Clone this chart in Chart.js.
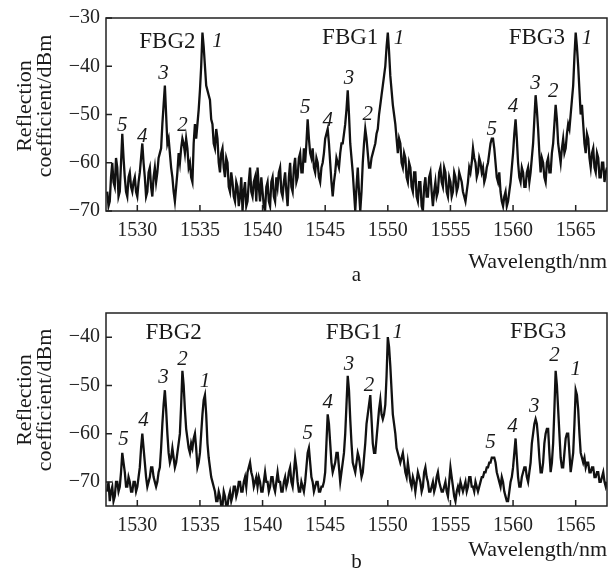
<!DOCTYPE html>
<html>
<head>
<meta charset="utf-8">
<script src="https://cdn.jsdelivr.net/npm/chart.js@4"></script>
<style>
  html, body { margin: 0; padding: 0; background: #fff; }
  canvas { position: absolute; left: 0; }
  #chartA { top: 0; }
  #chartB { top: 287px; }
</style>
</head>
<body>
<canvas id="chartA" width="609" height="287"></canvas>
<canvas id="chartB" width="609" height="287"></canvas>
<script>
// sampling grid of the spectra (nm)
const lambdaStart = 1527.6;
const lambdaStep = 0.1;

const xTicks = [1530, 1535, 1540, 1545, 1550, 1555, 1560, 1565];
const yTicksA = [-70, -60, -50, -40, -30];
const yTicksB = [-70, -60, -50, -40];

// panel a, dBm, one row = 2 nm
const reflectionA = [
  -66, -69, -68, -63, -60, -64, -65, -59, -61, -67, -66, -60, -54, -59, -63, -66, -67, -63, -62, -65,
  -66, -64, -63, -66, -67, -64, -62, -59, -56, -60, -63, -67, -66, -62, -61, -65, -67, -63, -61, -64,
  -62, -59, -58, -57, -52, -48, -44, -50, -56, -55, -58, -61, -63, -66, -68, -65, -62, -58, -60, -57,
  -55, -56, -58, -55, -57, -61, -60, -63, -64, -56, -52, -55, -52, -49, -45, -40, -33, -36, -40, -44,
  -45, -46, -47, -51, -52, -56, -57, -53, -55, -60, -62, -58, -57, -61, -63, -59, -60, -65, -66, -62,
  -64, -67, -68, -64, -65, -69, -67, -63, -70, -66, -64, -69, -68, -64, -61, -66, -67, -64, -63, -68,
  -61, -65, -68, -63, -66, -69, -70, -65, -64, -68, -69, -64, -63, -67, -68, -63, -65, -62, -61, -66,
  -67, -64, -62, -66, -69, -63, -60, -65, -66, -61, -59, -64, -63, -59, -58, -62, -62, -57, -60, -56,
  -51, -55, -58, -59, -57, -61, -62, -59, -60, -63, -64, -61, -60, -58, -55, -54, -53, -56, -60, -64,
  -67, -64, -62, -59, -60, -61, -58, -56, -56, -54, -52, -49, -45, -50, -56, -59, -62, -66, -70, -65,
  -61, -66, -70, -66, -60, -56, -53, -55, -58, -61, -61, -59, -58, -57, -56, -54, -53, -50, -48, -46,
  -44, -42, -40, -36, -33, -37, -42, -45, -48, -50, -52, -55, -58, -55, -56, -60, -61, -58, -59, -63,
  -64, -60, -61, -65, -66, -62, -62, -67, -68, -64, -64, -69, -70, -65, -63, -67, -67, -63, -62, -66,
  -69, -66, -64, -67, -66, -62, -61, -64, -65, -61, -62, -66, -67, -63, -64, -67, -66, -62, -63, -66,
  -65, -62, -63, -64, -66, -67, -68, -66, -64, -61, -62, -60, -57, -59, -60, -63, -62, -59, -60, -62,
  -61, -64, -63, -61, -60, -58, -56, -55, -55, -57, -60, -63, -64, -62, -66, -68, -69, -67, -66, -69,
  -68, -66, -64, -61, -58, -54, -51, -55, -60, -63, -64, -61, -62, -65, -65, -62, -61, -64, -62, -59,
  -56, -51, -46, -49, -53, -58, -62, -59, -60, -63, -64, -60, -59, -62, -62, -58, -56, -52, -48, -51,
  -56, -58, -60, -57, -55, -58, -57, -54, -52, -53, -50, -47, -44, -38, -33, -36, -40, -45, -50, -48,
  -52, -56, -58, -54, -55, -59, -61, -58, -57, -61, -62, -58, -59, -63, -63, -60, -60, -64, -62, -61
];

// panel b, dBm
const reflectionB = [
  -72, -70, -74, -72, -71, -74, -73, -70, -70, -72, -71, -68, -64, -66, -68, -71, -71, -69, -70, -72,
  -72, -70, -70, -72, -71, -69, -67, -63, -60, -63, -66, -69, -71, -70, -69, -67, -67, -69, -70, -71,
  -70, -68, -67, -63, -58, -54, -51, -55, -60, -64, -66, -65, -63, -65, -67, -66, -64, -62, -60, -54,
  -47, -50, -55, -59, -61, -63, -64, -62, -63, -61, -60, -63, -67, -66, -64, -60, -56, -53, -52, -56,
  -62, -65, -67, -69, -70, -71, -72, -74, -74, -72, -73, -75, -75, -72, -73, -75, -75, -73, -72, -74,
  -73, -71, -71, -73, -72, -70, -70, -72, -72, -70, -69, -71, -68, -67, -66, -68, -69, -71, -70, -69,
  -71, -69, -70, -72, -72, -70, -68, -70, -70, -72, -71, -69, -69, -71, -72, -70, -68, -70, -70, -72,
  -72, -70, -69, -71, -70, -68, -67, -70, -71, -68, -65, -67, -70, -72, -72, -70, -71, -72, -70, -67,
  -64, -63, -66, -69, -70, -72, -71, -70, -70, -72, -72, -71, -71, -70, -68, -62, -56, -58, -62, -66,
  -68, -67, -66, -64, -64, -67, -70, -68, -66, -64, -60, -54, -48, -51, -57, -62, -66, -67, -68, -66,
  -64, -65, -67, -69, -68, -65, -62, -58, -56, -54, -52, -57, -62, -64, -64, -61, -58, -55, -53, -56,
  -57, -56, -54, -48, -40, -42, -46, -51, -56, -58, -60, -63, -64, -65, -66, -65, -64, -66, -68, -69,
  -66, -68, -70, -71, -69, -70, -72, -70, -68, -69, -70, -72, -71, -68, -67, -69, -70, -72, -72, -71,
  -70, -72, -71, -69, -68, -70, -71, -72, -72, -71, -70, -72, -73, -70, -67, -69, -71, -73, -74, -72,
  -71, -72, -70, -71, -72, -71, -70, -72, -71, -69, -69, -71, -71, -72, -70, -71, -72, -71, -70, -69,
  -69, -68, -68, -67, -67, -66, -66, -65, -65, -65, -66, -68, -69, -70, -71, -69, -70, -72, -73, -74,
  -74, -72, -70, -69, -67, -64, -61, -65, -69, -71, -71, -69, -68, -67, -67, -69, -70, -68, -66, -62,
  -60, -58, -57, -58, -61, -65, -68, -68, -66, -62, -60, -59, -59, -64, -68, -66, -62, -55, -47, -50,
  -55, -60, -65, -67, -67, -64, -61, -60, -60, -64, -68, -66, -64, -58, -51, -52, -55, -60, -64, -65,
  -66, -65, -67, -66, -66, -68, -68, -67, -67, -69, -69, -68, -68, -70, -70, -69, -68, -70, -71, -70
];

// peak labels: wavelength, dBm, text, italic
const notesA = [
  [1532.4, -34.9, "FBG2", false], [1536.4, -34.9, "1", true], [1532.1, -41.5, "3", true],
  [1528.8, -52.2, "5", true], [1530.4, -54.6, "4", true], [1533.6, -52.2, "2", true],
  [1547.0, -34.2, "FBG1", false], [1550.9, -34.2, "1", true], [1543.4, -48.6, "5", true],
  [1545.2, -51.3, "4", true], [1546.9, -42.5, "3", true], [1548.4, -50.1, "2", true],
  [1561.9, -34.2, "FBG3", false], [1565.9, -34.3, "1", true], [1561.8, -43.5, "3", true],
  [1563.2, -45.3, "2", true], [1560.0, -48.4, "4", true], [1558.3, -53.2, "5", true]
];
const notesB = [
  [1532.9, -39.1, "FBG2", false], [1528.9, -61.3, "5", true], [1530.5, -57.2, "4", true],
  [1532.1, -48.3, "3", true], [1533.6, -44.7, "2", true], [1535.4, -49.2, "1", true],
  [1547.3, -39.1, "FBG1", false], [1550.8, -39.1, "1", true], [1543.6, -59.9, "5", true],
  [1545.2, -53.5, "4", true], [1546.9, -45.6, "3", true], [1548.5, -50.0, "2", true],
  [1562.0, -39.0, "FBG3", false], [1558.2, -61.9, "5", true], [1559.95, -58.5, "4", true],
  [1561.7, -54.3, "3", true], [1563.3, -43.9, "2", true], [1565.0, -46.8, "1", true]
];

const serif = "'Liberation Serif', 'Times New Roman', serif";

const framePlugin = {
  id: "frame",
  afterDraw(chart, args, opts) {
    const { ctx, chartArea: a, scales: { x, y } } = chart;
    ctx.save();
    ctx.strokeStyle = "#222";
    ctx.lineWidth = 1.5;
    ctx.strokeRect(a.left, a.top, a.right - a.left, a.bottom - a.top);
    ctx.beginPath();
    x.ticks.forEach((t) => {
      const px = x.getPixelForValue(t.value);
      ctx.moveTo(px, a.bottom);
      ctx.lineTo(px, a.bottom - 6);
    });
    y.ticks.forEach((t) => {
      const py = y.getPixelForValue(t.value);
      ctx.moveTo(a.left, py);
      ctx.lineTo(a.left + 6, py);
    });
    ctx.stroke();

    ctx.fillStyle = "#1a1a1a";
    ctx.textAlign = "center";
    ctx.textBaseline = "middle";
    opts.notes.forEach(([lx, ly, text, italic]) => {
      ctx.font = (italic ? "italic 21px " : "23px ") + serif;
      ctx.fillText(text, x.getPixelForValue(lx), y.getPixelForValue(ly));
    });

    // axis titles and panel letter
    ctx.font = "22px " + serif;
    ctx.save();
    ctx.translate(25, opts.titleY);
    ctx.rotate(-Math.PI / 2);
    ctx.fillText("Reflection", 0, 0);
    ctx.restore();
    ctx.save();
    ctx.translate(45, opts.titleY);
    ctx.rotate(-Math.PI / 2);
    ctx.fillText("coefficient/dBm", 0, 0);
    ctx.restore();

    ctx.textAlign = "right";
    ctx.fillText("Wavelength/nm", a.right, opts.xTitleY);
    ctx.textAlign = "center";
    ctx.font = "21px " + serif;
    ctx.fillText(opts.panel, (a.left + a.right) / 2, opts.panelY);
    ctx.restore();
  }
};

function makePanel(canvasId, values, yMin, yMax, yTicks, notes, cfg) {
  const ctx = document.getElementById(canvasId);
  const points = values.map((v, i) => ({
    x: +(lambdaStart + i * lambdaStep).toFixed(1),
    y: v
  }));

  return new Chart(ctx, {
    type: "line",
    data: {
      datasets: [
        {
          data: points,
          borderColor: "#111",
          borderWidth: 2.3,
          pointRadius: 0,
          tension: 0
        }
      ]
    },
    options: {
      responsive: false,
      animation: false,
      layout: { padding: { left: 0, right: 2, top: cfg.top, bottom: 0 } },
      plugins: {
        legend: { display: false },
        tooltip: { enabled: false },
        frame: { notes, ...cfg }
      },
      scales: {
        x: {
          type: "linear",
          min: 1527.5,
          max: 1567.5,
          grid: { display: false, drawTicks: false },
          border: { display: false },
          afterBuildTicks: (s) => { s.ticks = xTicks.map((v) => ({ value: v })); },
          afterFit: (s) => { s.height = cfg.xHeight; },
          ticks: {
            padding: 8,
            color: "#222",
            font: { family: serif, size: 20 },
            callback: (v) => String(v)
          }
        },
        y: {
          min: yMin,
          max: yMax,
          grid: { display: false, drawTicks: false },
          border: { display: false },
          afterBuildTicks: (s) => { s.ticks = yTicks.map((v) => ({ value: v })); },
          afterFit: (s) => { s.width = 106; },
          ticks: {
            padding: 6,
            color: "#222",
            font: { family: serif, size: 20 },
            callback: (v) => String(v).replace("-", "\u2212")
          }
        }
      }
    },
    plugins: [framePlugin]
  });
}

makePanel("chartA", reflectionA, -70, -30, yTicksA, notesA, {
  top: 18, xHeight: 76, titleY: 106, xTitleY: 262, panel: "a", panelY: 275
});
makePanel("chartB", reflectionB, -75, -35, yTicksB, notesB, {
  top: 26, xHeight: 68, titleY: 113, xTitleY: 263, panel: "b", panelY: 275
});
</script>
</body>
</html>
